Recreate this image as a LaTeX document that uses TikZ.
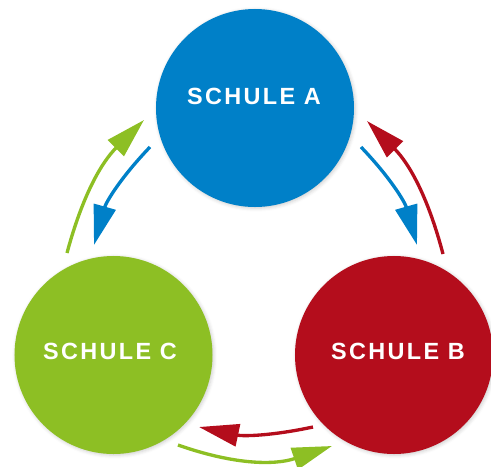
\documentclass[tikz,border=0pt]{standalone}
\usepackage{fontspec}
\newfontfamily\schulefont[LetterSpace=10]{Liberation Sans}
\usepackage{tikz}
\usetikzlibrary{arrows.meta,shadows.blur}
\usepackage{xcolor}
\definecolor{blau}{RGB}{0,128,200}
\definecolor{gruen}{RGB}{141,191,36}
\definecolor{rot}{RGB}{180,13,28}

\tikzset{
  schule/.style={circle, minimum size=5.94cm, inner sep=0pt,
    blur shadow={shadow xshift=1pt, shadow yshift=-1pt, shadow blur radius=3pt, shadow opacity=20}},
  titel/.style={text=white, font=\schulefont\bfseries\fontsize{20}{24}\selectfont},
  spitze/.tip={Triangle[length=34pt, width=19pt]},
  pfeil/.style={line width=0.1cm, -spitze}
}

\begin{document}
\begin{tikzpicture}[x=0.03cm, y=-0.03cm]
\useasboundingbox (0,0) rectangle (491,467);
\node[schule, fill=blau] (A) at (255,108) {};
\node[schule, fill=rot] (B) at (394,355) {};
\node[schule, fill=gruen] (C) at (113.5,355) {};
\node[titel] (tA) at (254,96) {SCHULE A};
\node[titel] (tB) at (398,351) {SCHULE B};
\node[titel] (tC) at (110,351) {SCHULE C};
% Pfeilenden
\coordinate (ca1) at (150,147);  \coordinate (cc1) at (94,245);
\coordinate (cc2) at (67,253);   \coordinate (ca2) at (144,120);
\coordinate (ca3) at (361,147);  \coordinate (cb3) at (417,245);
\coordinate (cb4) at (443,254);  \coordinate (ca4) at (367,121);
\coordinate (cb5) at (313,427);  \coordinate (cc5) at (199,427);
\coordinate (cc6) at (178,445);  \coordinate (cb6) at (332,446);
\draw[pfeil, gruen] (cc2) to[bend left=15] (ca2);
\draw[pfeil, blau] (ca1) to[bend right=14] (cc1);
\draw[pfeil, blau] (ca3) to[bend left=14] (cb3);
\draw[pfeil, rot] (cb4) to[bend right=15] (ca4);
\draw[pfeil, rot] (cb5) to[bend left=12] (cc5);
\draw[pfeil, gruen] (cc6) to[bend right=19] (cb6);
\end{tikzpicture}
\end{document}
